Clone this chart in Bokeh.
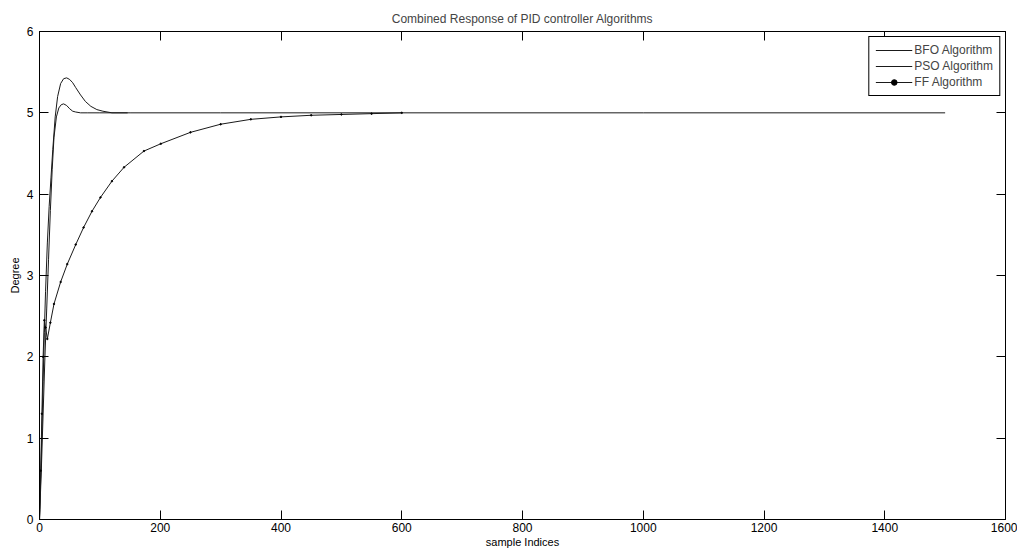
from bokeh.plotting import figure
from bokeh.models import Range1d, FixedTicker, LinearAxis, Legend, LegendItem
from bokeh.embed import file_html
from bokeh.resources import INLINE

# ---- data ----
bfo_x = [0, 2, 4, 6, 8, 10, 13, 16, 19, 22, 26, 30, 35, 40, 45, 50, 55, 60, 68, 76, 85, 95, 105, 120, 135, 146]
bfo_y = [0, 0.5, 1.1, 1.7, 2.3, 2.8, 3.4, 3.85, 4.2, 4.55, 4.95, 5.2, 5.36, 5.42, 5.43, 5.41, 5.37, 5.31,
         5.22, 5.14, 5.08, 5.04, 5.02, 5.0, 5.0, 5.0]

pso_x = [0, 3, 6, 9, 12, 15, 18, 21, 24, 28, 32, 36, 40, 45, 50, 55, 60, 68, 80, 100, 150, 300, 600, 1000, 1500]
pso_y = [0, 0.6, 1.3, 2.0, 2.6, 3.2, 3.8, 4.3, 4.7, 4.95, 5.06, 5.1, 5.11, 5.09, 5.05, 5.02, 5.01, 5.0,
         5.0, 5.0, 5.0, 5.0, 5.0, 5.0, 5.0]

ff_x = [0, 2, 4, 6, 8, 10, 13, 18, 24, 35, 46, 60, 73, 87, 101, 120, 140, 173, 201, 250, 300, 350, 400,
        450, 500, 550, 600]
ff_y = [0, 0.6, 1.3, 2.0, 2.45, 2.36, 2.22, 2.42, 2.65, 2.92, 3.14, 3.38, 3.59, 3.79, 3.96, 4.16, 4.33,
        4.53, 4.62, 4.76, 4.86, 4.92, 4.95, 4.97, 4.98, 4.99, 5.0]

x_ticks = [0, 200, 400, 600, 800, 1000, 1200, 1400, 1600]
y_ticks = [0, 1, 2, 3, 4, 5, 6]

FONT = "Liberation Sans"

p = figure(width=1017, height=550, output_backend="svg", toolbar_location=None,
           x_range=Range1d(0, 1600), y_range=Range1d(0, 6),
           min_border_left=39, min_border_right=12, min_border_top=31, min_border_bottom=31)

p.title.text = "Combined Response of PID controller Algorithms"
p.title.align = "center"
p.title.text_font = FONT
p.title.text_font_size = "12px"
p.title.text_font_style = "normal"
p.title.standoff = 12

p.xgrid.visible = False
p.ygrid.visible = False
p.outline_line_color = "black"
p.outline_line_alpha = 1.0
p.background_fill_color = "white"
p.border_fill_color = "white"

for ax, ticks in ((p.xaxis[0], x_ticks), (p.yaxis[0], y_ticks)):
    ax.ticker = FixedTicker(ticks=ticks)
    ax.minor_tick_line_color = None
    ax.major_tick_in = 9
    ax.major_tick_out = 0
    ax.major_tick_line_color = "black"
    ax.axis_line_color = "black"
    ax.major_label_text_font = FONT
    ax.major_label_text_font_size = "12px"
    ax.major_label_text_color = "black"
    ax.axis_label_text_font = FONT
    ax.axis_label_text_font_size = "11px"
    ax.axis_label_text_font_style = "normal"
    ax.axis_label_text_color = "black"

p.xaxis[0].axis_label = "sample Indices"
p.xaxis[0].major_label_standoff = 3
p.xaxis[0].axis_label_standoff = 1
p.yaxis[0].axis_label = "Degree"
p.yaxis[0].major_label_standoff = 6
p.yaxis[0].axis_label_standoff = 3

# mirrored ticks on top and right (no labels)
top = LinearAxis(ticker=FixedTicker(ticks=x_ticks), major_label_text_font_size="1px",
                 major_label_text_color=None, major_label_standoff=0,
                 major_tick_in=9, major_tick_out=0, minor_tick_line_color=None,
                 axis_line_color="black", major_tick_line_color="black")
right = LinearAxis(ticker=FixedTicker(ticks=y_ticks), major_label_text_font_size="1px",
                   major_label_text_color=None, major_label_standoff=0,
                   major_tick_in=9, major_tick_out=0, minor_tick_line_color=None,
                   axis_line_color="black", major_tick_line_color="black")
p.add_layout(top, "above")
p.add_layout(right, "right")

r_bfo = p.line(bfo_x, bfo_y, line_color="#1a1a1a", line_width=1)
r_pso = p.line(pso_x, pso_y, line_color="#1a1a1a", line_width=1)
r_ff = p.line(ff_x, ff_y, line_color="#1a1a1a", line_width=1)
r_ffd = p.scatter(ff_x, ff_y, size=1.5, color="black")

legend = Legend(items=[
    LegendItem(label="BFO Algorithm", renderers=[r_bfo]),
    LegendItem(label="PSO Algorithm", renderers=[r_pso]),
    LegendItem(label="FF Algorithm", renderers=[r_ff, r_ffd]),
], location="top_right")
legend.label_text_font = FONT
legend.label_text_font_size = "12px"
legend.glyph_width = 37
legend.glyph_height = 14
legend.label_height = 14
legend.label_standoff = 2
legend.spacing = 2
legend.padding = 6
legend.margin = 5
legend.border_line_color = "black"
legend.border_line_alpha = 1.0
legend.background_fill_alpha = 1.0
p.add_layout(legend)

open("out.html", "w").write(file_html(p, INLINE))
